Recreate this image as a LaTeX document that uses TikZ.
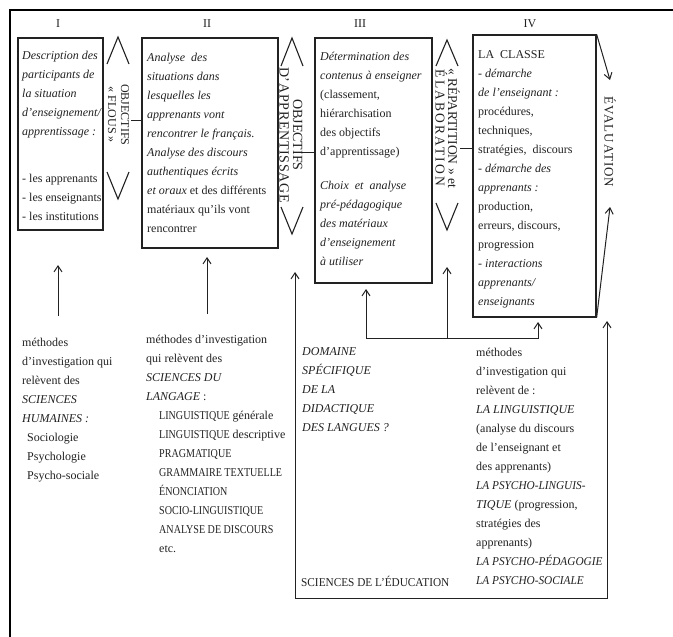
\documentclass[tikz,border=0pt]{standalone}
\usepackage{fontspec}
\setmainfont{Liberation Serif}
\usetikzlibrary{arrows.meta}
\definecolor{ink}{HTML}{222222}
\newcommand{\nar}[1]{{\addfontfeature{FakeStretch=0.84}#1}}
\newcommand{\nab}[1]{{\addfontfeature{FakeStretch=0.94}#1}}
\begin{document}
\begin{tikzpicture}[x=1pt,y=-1pt,
  box/.style={draw=ink,line width=1.3pt,inner sep=0pt},
  txt/.style={anchor=north west,inner sep=0pt,align=left,text=ink,font=\fontsize{12}{19}\selectfont},
  vtxt/.style={rotate=-90,align=center,inner sep=0pt,text=ink},
  lbl/.style={inner sep=0pt,text=ink,font=\fontsize{12}{14}\selectfont},
  arr/.style={draw=ink,line width=1pt,-{Straight Barb[length=6pt,width=8pt,line width=1pt]}},
  arrtwo/.style={draw=ink,line width=1pt,{Straight Barb[length=6pt,width=8pt,line width=1pt]}-{Straight Barb[length=6pt,width=8pt,line width=1pt]}},
  chev/.style={draw=ink,line width=1.1pt},
  tick/.style={draw=ink,line width=0.8pt},
]
\fill[white] (0,0) rectangle (673,637);
\useasboundingbox (0,0) rectangle (673,637);
% outer frame (cropped)
\coordinate (fbl) at (10,640); \coordinate (ftl) at (10,10); \coordinate (ftr) at (676,10);
\draw[black,line width=2.5pt] (fbl) -- (ftl) -- (ftr);

% column labels
\node[lbl] (lI) at (58,24) {I};
\node[lbl] (lII) at (207,24) {II};
\node[lbl] (lIII) at (360,24) {III};
\node[lbl] (lIV) at (530,24) {IV};

% boxes
\node[box,minimum width=85pt,minimum height=192pt] (b1) at (60.5,134) {};
\node[box,minimum width=136pt,minimum height=210pt] (b2) at (210,143) {};
\node[box,minimum width=117pt,minimum height=245pt] (b3) at (373.5,160.5) {};
\node[box,minimum width=123pt,minimum height=282pt] (b4) at (534.5,176) {};

% box texts
\node[txt] (t1) at (22,46.2) {\strut\textit{Description des}\\ \textit{participants de}\\ \textit{la situation}\\ \textit{d'enseignement/}\\ \textit{apprentissage :}\\[28pt] - les apprenants\\ - les enseignants\\ - les institutions};
\node[txt] (t2) at (147,48) {\strut\textit{Analyse\ \ des}\\ \textit{situations dans}\\ \textit{lesquelles les}\\ \textit{apprenants vont}\\ \textit{rencontrer le français.}\\ \textit{Analyse des discours}\\ \textit{authentiques écrits}\\ \textit{et oraux} et des différents\\ matériaux qu'ils vont\\ rencontrer};
\node[txt] (t3) at (320,47.2) {\strut\textit{Détermination des}\\ \textit{contenus à enseigner}\\ (classement,\\ hiérarchisation\\ des objectifs\\ d'apprentissage)\\[15pt] \textit{Choix\ \ et\ \ analyse}\\ \textit{pré-pédagogique}\\ \textit{des matériaux}\\ \textit{d'enseignement}\\ \textit{à utiliser}};
\node[txt] (t4) at (478,45) {\strut LA\ \ CLASSE\\ - \textit{démarche}\\ \textit{de l'enseignant :}\\ procédures,\\ techniques,\\ stratégies,\ \ discours\\ - \textit{démarche des}\\ \textit{apprenants :}\\ production,\\ erreurs, discours,\\ progression\\ - \textit{interactions}\\ \textit{apprenants/}\\ \textit{enseignants}};

% vertical labels with chevrons
\node[vtxt,font=\fontsize{12}{13}\selectfont] (v1) at (118.5,115) {OBJECTIFS\\« FLOUS »};
\draw[chev] (107,64) -- (118,37) -- (129,64);
\draw[chev] (107,172) -- (118,199) -- (129,172);

\node[vtxt,font=\fontsize{14}{13.5}\selectfont] (v2) at (291,135) {OBJECTIFS\\{\addfontfeature{LetterSpace=5}D'APPRENTISSAGE}};
\draw[chev] (281,66) -- (292,38) -- (303,66);
\draw[chev] (281,207) -- (292,234) -- (303,207);

\node[vtxt,font=\fontsize{13.5}{12.5}\selectfont] (v3) at (447.5,128) {« RÉPARTITION » et\\{\addfontfeature{LetterSpace=16}ÉLABORATION}};
\draw[chev] (436,66) -- (447,40) -- (458,66);
\draw[chev] (436,203) -- (447,230) -- (458,203);

\node[vtxt,font=\fontsize{13}{13}\selectfont] (v4) at (610,142) {{\addfontfeature{LetterSpace=8}ÉVALUATION}};
\coordinate (ev1) at (610,80); \coordinate (ev2) at (610,207);
\draw[arr] (b4.north east) -- (ev1);
\draw[arr] (b4.south east) -- (ev2);

% small ticks
\coordinate (k1) at (131,120); \draw[tick] (k1) -- (k1 -| b2.west);
\coordinate (k2) at (300,152); \draw[tick] (k2) -- (k2 -| b3.west);
\coordinate (k3) at (460,148); \draw[tick] (k3) -- (k3 -| b4.west);

% bottom texts
\node[txt] (m1) at (22,333.2) {\strut méthodes\\ d'investigation qui\\ relèvent des\\ \textit{SCIENCES}\\ \textit{HUMAINES :}\\ \hspace*{5pt}Sociologie\\ \hspace*{5pt}Psychologie\\ \hspace*{5pt}Psycho-sociale};
\node[txt] (m2) at (146,330.2) {\strut méthodes d'investigation\\ qui relèvent des\\ \textit{SCIENCES DU}\\ \textit{LANGAGE} :\\ \hspace*{13pt}\nar{LINGUISTIQUE} générale\\ \hspace*{13pt}\nar{LINGUISTIQUE} descriptive\\ \hspace*{13pt}\nar{PRAGMATIQUE}\\ \hspace*{13pt}\nar{GRAMMAIRE TEXTUELLE}\\ \hspace*{13pt}\nar{ÉNONCIATION}\\ \hspace*{13pt}\nar{SOCIO-LINGUISTIQUE}\\ \hspace*{13pt}\nar{ANALYSE DE DISCOURS}\\ \hspace*{13pt}etc.};
\node[txt] (m3) at (302,342.2) {\strut\textit{DOMAINE}\\ \textit{SPÉCIFIQUE}\\ \textit{DE LA}\\ \textit{DIDACTIQUE}\\ \textit{DES LANGUES ?}};
\node[txt] (m4) at (476,343.2) {\strut méthodes\\ d'investigation qui\\ relèvent de :\\ \textit{LA LINGUISTIQUE}\\ (analyse du discours\\ de l'enseignant et\\ des apprenants)\\ \nab{\textit{LA PSYCHO-LINGUIS-}}\\ \textit{TIQUE} (progression,\\ stratégies des\\ apprenants)\\ \nab{\textit{LA PSYCHO-PÉDAGOGIE}}\\ \nab{\textit{LA PSYCHO-SOCIALE}}};
\node[lbl,anchor=base west,font=\fontsize{12}{19}\selectfont] (se) at (301,586.5) {\nab{SCIENCES DE L'ÉDUCATION}};

% arrows from the methods up to the boxes
\coordinate (a1s) at (58,316); \coordinate (a1e) at (58,265);
\draw[arr] (a1s) -- (a1e);
\coordinate (a2s) at (207,314); \coordinate (a2e) at (207,257);
\draw[arr] (a2s) -- (a2e);

% big bottom frame with two arrows
\coordinate (lt) at (295,272); \coordinate (lb) at (295,598);
\coordinate (rb) at (607,598); \coordinate (rt) at (607,321);
\draw[arrtwo] (lt) -- (lb) -- (rb) -- (rt);

% fork under boxes III and IV
\coordinate (f1) at (366,338); \coordinate (f2) at (447,338); \coordinate (f3) at (538,338);
\coordinate (f1t) at (366,289); \coordinate (f2t) at (447,267); \coordinate (f3t) at (538,322);
\draw[arrtwo] (f1t) -- (f1) -- (f3) -- (f3t);
\draw[arr] (f2) -- (f2t);
\end{tikzpicture}
\end{document}
